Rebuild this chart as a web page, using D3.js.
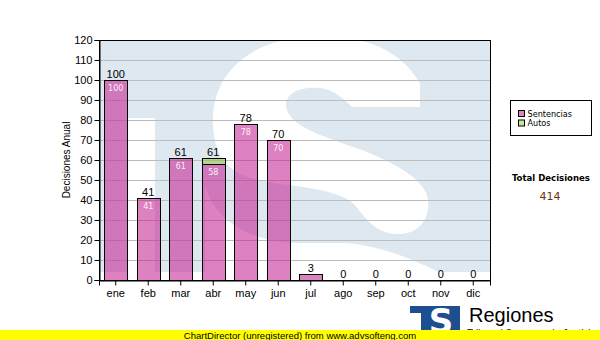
<!DOCTYPE html>
<html>
<head>
<meta charset="utf-8">
<script src="https://cdn.jsdelivr.net/npm/d3@7"></script>
<style>
  body { margin: 0; background: #fff; }
  svg { display: block; font-family: "Liberation Sans", Arial, sans-serif; }
</style>
</head>
<body>
<script>
//chart data
var months = ["ene", "feb", "mar", "abr", "may", "jun", "jul", "ago", "sep", "oct", "nov", "dic"];
var sentencias = [100, 41, 61, 58, 78, 70, 3, 0, 0, 0, 0, 0];
var autos = [0, 0, 0, 3, 0, 0, 0, 0, 0, 0, 0, 0];
var yTickValues = [0, 10, 20, 30, 40, 50, 60, 70, 80, 90, 100, 110, 120];
var seriesNames = ["Sentencias", "Autos"];
var totalLabel = "Total Decisiones";

window.onload = drawChart();

function drawChart(){
    var width = 600,
        height = 340;
    var left = 99, right = 490, top = 40, bottom = 280;

    var svg = d3.select("body")
        .append("svg")
        .attr("width", width)
        .attr("height", height);

    var x = d3.scaleBand()
        .domain(months)
        .range([left, right])
        .paddingInner(0.29)
        .paddingOuter(0.16);

    var y = d3.scaleLinear()
        .domain([0, 120])
        .range([bottom, top]);

    //clip for the watermark
    svg.append("clipPath").attr("id", "plotClip")
        .append("rect")
        .attr("x", left).attr("y", top)
        .attr("width", right - left).attr("height", bottom - top);

    //watermark logo behind the plot
    var wm = svg.append("g").attr("clip-path", "url(#plotClip)");
    wm.append("rect")
        .attr("x", left).attr("y", top)
        .attr("width", right - left).attr("height", bottom - top)
        .attr("fill", "#dee8f1");
    //white areas of the logo
    wm.append("rect").attr("x", 127).attr("y", 118).attr("width", 28).attr("height", 165).attr("fill", "#fff");
    wm.append("rect").attr("x", 99).attr("y", 272).attr("width", 395).attr("height", 10).attr("fill", "#fff");
    wm.append("path")
        .attr("fill", "#fff")
        .attr("d", "M420,84 C405,55 372,36 320,36 C255,36 213,70 213,120 C213,150 222,168 250,178 " +
                   "C290,188 335,186 355,205 C368,222 378,234 398,234 C420,234 430,218 428,200 " +
                   "C426,182 402,166 362,150 C322,136 288,126 286,106 C285,93 300,86 320,88 " +
                   "C335,90 345,100 352,107 L420,107 Z");
    wm.append("path")
        .attr("fill", "#fff")
        .attr("d", "M205,186 C215,220 250,243 300,243 L347,243 C382,246 420,262 442,274 L442,282 L205,282 Z");

    //horizontal grid lines
    svg.append("g")
        .selectAll("line")
        .data(yTickValues.filter(function(d){ return d > 0 && d < 120; }))
        .enter()
        .append("line")
        .attr("x1", left).attr("x2", right)
        .attr("y1", function(d){ return Math.round(y(d)) + 0.5; })
        .attr("y2", function(d){ return Math.round(y(d)) + 0.5; })
        .attr("stroke", "#bcbcbc");

    //stacked bars
    var bars = svg.append("g");
    months.forEach(function(m, i){
        var s = sentencias[i], a = autos[i];
        var bx = Math.round(x(m)) + 0.5, bw = Math.round(x.bandwidth());
        if (s > 0) {
            bars.append("rect")
                .attr("x", bx).attr("y", Math.round(y(s)) + 0.5)
                .attr("width", bw).attr("height", Math.round(y(0)) - Math.round(y(s)))
                .attr("fill", "rgba(196,30,142,0.56)")
                .attr("stroke", "#000");
        }
        if (a > 0) {
            bars.append("rect")
                .attr("x", bx).attr("y", Math.round(y(s + a)) + 0.5)
                .attr("width", bw).attr("height", Math.round(y(s)) - Math.round(y(s + a)))
                .attr("fill", "rgba(150,196,60,0.55)")
                .attr("stroke", "#000");
        }
    });

    //plot frame
    svg.append("rect")
        .attr("x", left + 0.5).attr("y", top + 0.5)
        .attr("width", right - left).attr("height", bottom - top)
        .attr("fill", "none")
        .attr("stroke", "#000");

    //axes
    var yAxis = svg.append("g")
        .attr("transform", "translate(" + (left + 0.5) + ",0)")
        .call(d3.axisLeft(y).tickValues(yTickValues).tickSize(5).tickPadding(2));
    var xAxis = svg.append("g")
        .attr("transform", "translate(0," + (bottom + 0.5) + ")")
        .call(d3.axisBottom(x).tickSize(5).tickPadding(4));
    [yAxis, xAxis].forEach(function(g){
        g.select(".domain").attr("stroke", "#000");
        g.selectAll(".tick line").attr("stroke", "#000");
        g.selectAll(".tick text")
            .attr("fill", "#000")
            .style("font-family", "'Liberation Sans', Arial, sans-serif")
            .style("font-size", "11px");
    });

    //y title
    svg.append("text")
        .attr("transform", "translate(70,160) rotate(-90)")
        .attr("text-anchor", "middle")
        .style("font-size", "10px")
        .text("Decisiones Anual");

    //value labels on top
    svg.append("g")
        .selectAll("text")
        .data(months)
        .enter()
        .append("text")
        .attr("x", function(d){ return x(d) + x.bandwidth() / 2; })
        .attr("y", function(d, i){ return y(sentencias[i] + autos[i]) - 2.5; })
        .attr("text-anchor", "middle")
        .style("font-size", "11px")
        .text(function(d, i){ return sentencias[i] + autos[i]; });

    //value labels inside sentencias bars
    svg.append("g")
        .selectAll("text")
        .data(months.filter(function(d, i){ return sentencias[i] >= 10; }))
        .enter()
        .append("text")
        .attr("x", function(d){ return x(d) + x.bandwidth() / 2; })
        .attr("y", function(d){ return y(sentencias[months.indexOf(d)]) + 10.5; })
        .attr("text-anchor", "middle")
        .attr("fill", "#fbeef7")
        .style("font-family", "'DejaVu Sans', sans-serif")
        .style("font-size", "8px")
        .text(function(d){ return sentencias[months.indexOf(d)]; });

    //legend
    var legendColors = ["rgb(222,130,192)", "rgb(204,228,150)"];
    var legend = svg.append("g").style("font-family", "'DejaVu Sans Condensed', 'DejaVu Sans', sans-serif");
    legend.append("rect")
        .attr("x", 510.5).attr("y", 100.5)
        .attr("width", 81).attr("height", 35)
        .attr("fill", "#fff").attr("stroke", "#000");
    seriesNames.forEach(function(name, i){
        legend.append("rect")
            .attr("x", 518.5).attr("y", 110.5 + i * 9.5)
            .attr("width", 6).attr("height", 6)
            .attr("fill", legendColors[i]).attr("stroke", "#000");
        legend.append("text")
            .attr("x", 527.5).attr("y", 116.7 + i * 9.5)
            .style("font-size", "9px")
            .text(name);
    });

    //total
    var total = d3.sum(sentencias) + d3.sum(autos);
    svg.append("text")
        .attr("x", 551).attr("y", 180.7)
        .attr("text-anchor", "middle")
        .style("font-family", "'DejaVu Sans Condensed', 'DejaVu Sans', sans-serif")
        .style("font-weight", "bold")
        .style("font-size", "9.5px")
        .text(totalLabel);
    svg.append("text")
        .attr("x", 550).attr("y", 200)
        .attr("text-anchor", "middle")
        .attr("fill", "#6e3512")
        .style("font-family", "'DejaVu Sans', sans-serif")
        .style("font-size", "11px")
        .text(total);

    //logo at bottom right
    var logo = svg.append("g");
    logo.append("rect").attr("x", 410).attr("y", 306).attr("width", 16).attr("height", 7).attr("fill", "#1d4e8f");
    logo.append("rect").attr("x", 421).attr("y", 306).attr("width", 39).attr("height", 30).attr("fill", "#1d4e8f");
    logo.append("text")
        .attr("x", 441).attr("y", 333)
        .attr("text-anchor", "middle")
        .attr("fill", "#fff")
        .style("font-family", "'DejaVu Sans', sans-serif")
        .style("font-weight", "bold")
        .style("font-size", "34px")
        .text("S");
    logo.append("text")
        .attr("x", 469).attr("y", 322)
        .style("font-size", "20px")
        .text("Regiones");
    logo.append("text")
        .attr("x", 467).attr("y", 337)
        .style("font-size", "10px")
        .attr("fill", "#222")
        .text("Tribunal Supremo de Justicia");

    //unregistered banner
    svg.append("rect")
        .attr("x", 0).attr("y", 330)
        .attr("width", width).attr("height", 10)
        .attr("fill", "#ffff00");
    svg.append("text")
        .attr("x", 300).attr("y", 338.5)
        .attr("text-anchor", "middle")
        .style("font-size", "9.5px")
        .text("ChartDirector (unregistered) from www.advsofteng.com");
};
</script>
</body>
</html>
